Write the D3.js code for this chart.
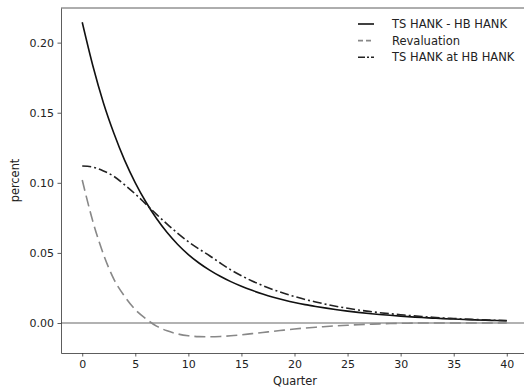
<!DOCTYPE html>
<html><head><meta charset="utf-8">
<script src="https://cdn.jsdelivr.net/npm/d3@7"></script>
<style>body{margin:0;background:#fff}svg{display:block}</style>
</head><body>
<script>
const quarters = d3.range(0, 41);
const tsMinusHb = [0.2145,0.1835,0.157,0.135,0.116,0.100,0.0863,0.0745,0.0645,0.056,0.0488,0.0428,0.0377,0.0333,0.0295,0.0262,0.0233,0.0207,0.0184,0.0164,0.0146,0.0131,0.0118,0.0106,0.0095,0.0085,0.0076,0.0068,0.0061,0.0055,0.0049,0.0044,0.0039,0.0035,0.0031,0.0028,0.0025,0.0022,0.0020,0.0018,0.0016];
const revaluation = [0.102,0.0725,0.049,0.031,0.019,0.0095,0.003,-0.0022,-0.0056,-0.0078,-0.0091,-0.0097,-0.0098,-0.0096,-0.0091,-0.0084,-0.0076,-0.0068,-0.0059,-0.0051,-0.0043,-0.0036,-0.0030,-0.0025,-0.0020,-0.0016,-0.0012,-0.0009,-0.0006,-0.0004,-0.0002,-0.0001,0,0,0,0,0,0,0,0,0];
const tsAtHb = [0.112,0.1112,0.1085,0.1045,0.0985,0.092,0.0848,0.0775,0.0705,0.064,0.058,0.0528,0.048,0.0428,0.0379,0.0337,0.0300,0.0267,0.0238,0.0212,0.0189,0.0168,0.0150,0.0133,0.0118,0.0105,0.0093,0.0083,0.0074,0.0066,0.0059,0.0052,0.0046,0.0041,0.0036,0.0032,0.0028,0.0025,0.0022,0.0019,0.0017];
const xTicks = [0,5,10,15,20,25,30,35,40];
const yTicks = [0,0.05,0.10,0.15,0.20];
const seriesNames = ["TS HANK - HB HANK","Revaluation","TS HANK at HB HANK"];

const FONT = "'DejaVu Sans', sans-serif";
const W = 524, H = 387;
const m = {left:61, top:8, right:528, bottom:353};
const svg = d3.select("body").append("svg").attr("width",W).attr("height",H);
const x = d3.scaleLinear().domain([-2,42]).range([m.left,m.right]);
const y = d3.scaleLinear().domain([-0.0214,0.2247]).range([m.bottom,m.top]);

// zero line
svg.append("line").attr("x1",m.left).attr("x2",m.right).attr("y1",y(0)).attr("y2",y(0))
  .attr("stroke","#999").attr("stroke-width",1.5);

const line = d3.line().curve(d3.curveMonotoneX).x((d,i)=>x(quarters[i])).y(d=>y(d));
const styles = [
  {data:tsMinusHb, color:"#111", dash:null, w:1.6},
  {data:revaluation, color:"#888", dash:"11,5", w:1.6},
  {data:tsAtHb, color:"#222", dash:"9,3,2,3", w:1.6}
];
styles.forEach(s=>{
  svg.append("path").datum(s.data).attr("d",line).attr("fill","none")
    .attr("stroke",s.color).attr("stroke-width",s.w)
    .attr("stroke-dasharray",s.dash);
});

// axes
const gx = svg.append("g").attr("transform",`translate(0,${m.bottom})`)
  .call(d3.axisBottom(x).tickValues(xTicks).tickFormat(d3.format("d")).tickSize(3.5).tickPadding(3.5).tickSizeOuter(0));
const gy = svg.append("g").attr("transform",`translate(${m.left},0)`)
  .call(d3.axisLeft(y).tickValues(yTicks).tickFormat(d3.format(".2f")).tickSize(3.5).tickPadding(3.5).tickSizeOuter(0));
[gx,gy].forEach(g=>{
  g.attr("font-family",null).attr("font-size",null);
  g.selectAll("text").style("font-size","11px").attr("fill","#222").style("font-family",FONT);
  g.selectAll(".tick line").attr("stroke","#333").attr("stroke-width",0.8);
  g.select(".domain").attr("stroke","#333").attr("stroke-width",0.8);
});
svg.append("line").attr("x1",m.left).attr("x2",m.right).attr("y1",m.top).attr("y2",m.top)
  .attr("stroke","#333").attr("stroke-width",0.8);
svg.append("line").attr("x1",m.right).attr("x2",m.right).attr("y1",m.top).attr("y2",m.bottom)
  .attr("stroke","#333").attr("stroke-width",0.8);

svg.append("text").attr("x",295).attr("y",385).attr("text-anchor","middle")
  .style("font-size","11.4px").style("font-family",FONT).attr("fill","#222").text("Quarter");
svg.append("text").attr("transform",`translate(19,${(m.top+m.bottom)/2}) rotate(-90)`)
  .attr("text-anchor","middle").style("font-size","11.4px").style("font-family",FONT).attr("fill","#222").text("percent");

// legend
const lg = svg.append("g");
styles.forEach((s,i)=>{
  const yy = 24 + i*16.6;
  lg.append("line").attr("x1",358).attr("x2",374).attr("y1",yy).attr("y2",yy)
    .attr("stroke",s.color).attr("stroke-width",s.w)
    .attr("stroke-dasharray", i===1 ? "5,3" : (i===2 ? "7,2,2,2" : null));
  lg.append("text").attr("x",392).attr("y",yy).attr("dy","0.35em")
    .style("font-size","11.5px").style("font-family",FONT).attr("fill","#222").text(seriesNames[i]);
});
</script>
</body></html>
